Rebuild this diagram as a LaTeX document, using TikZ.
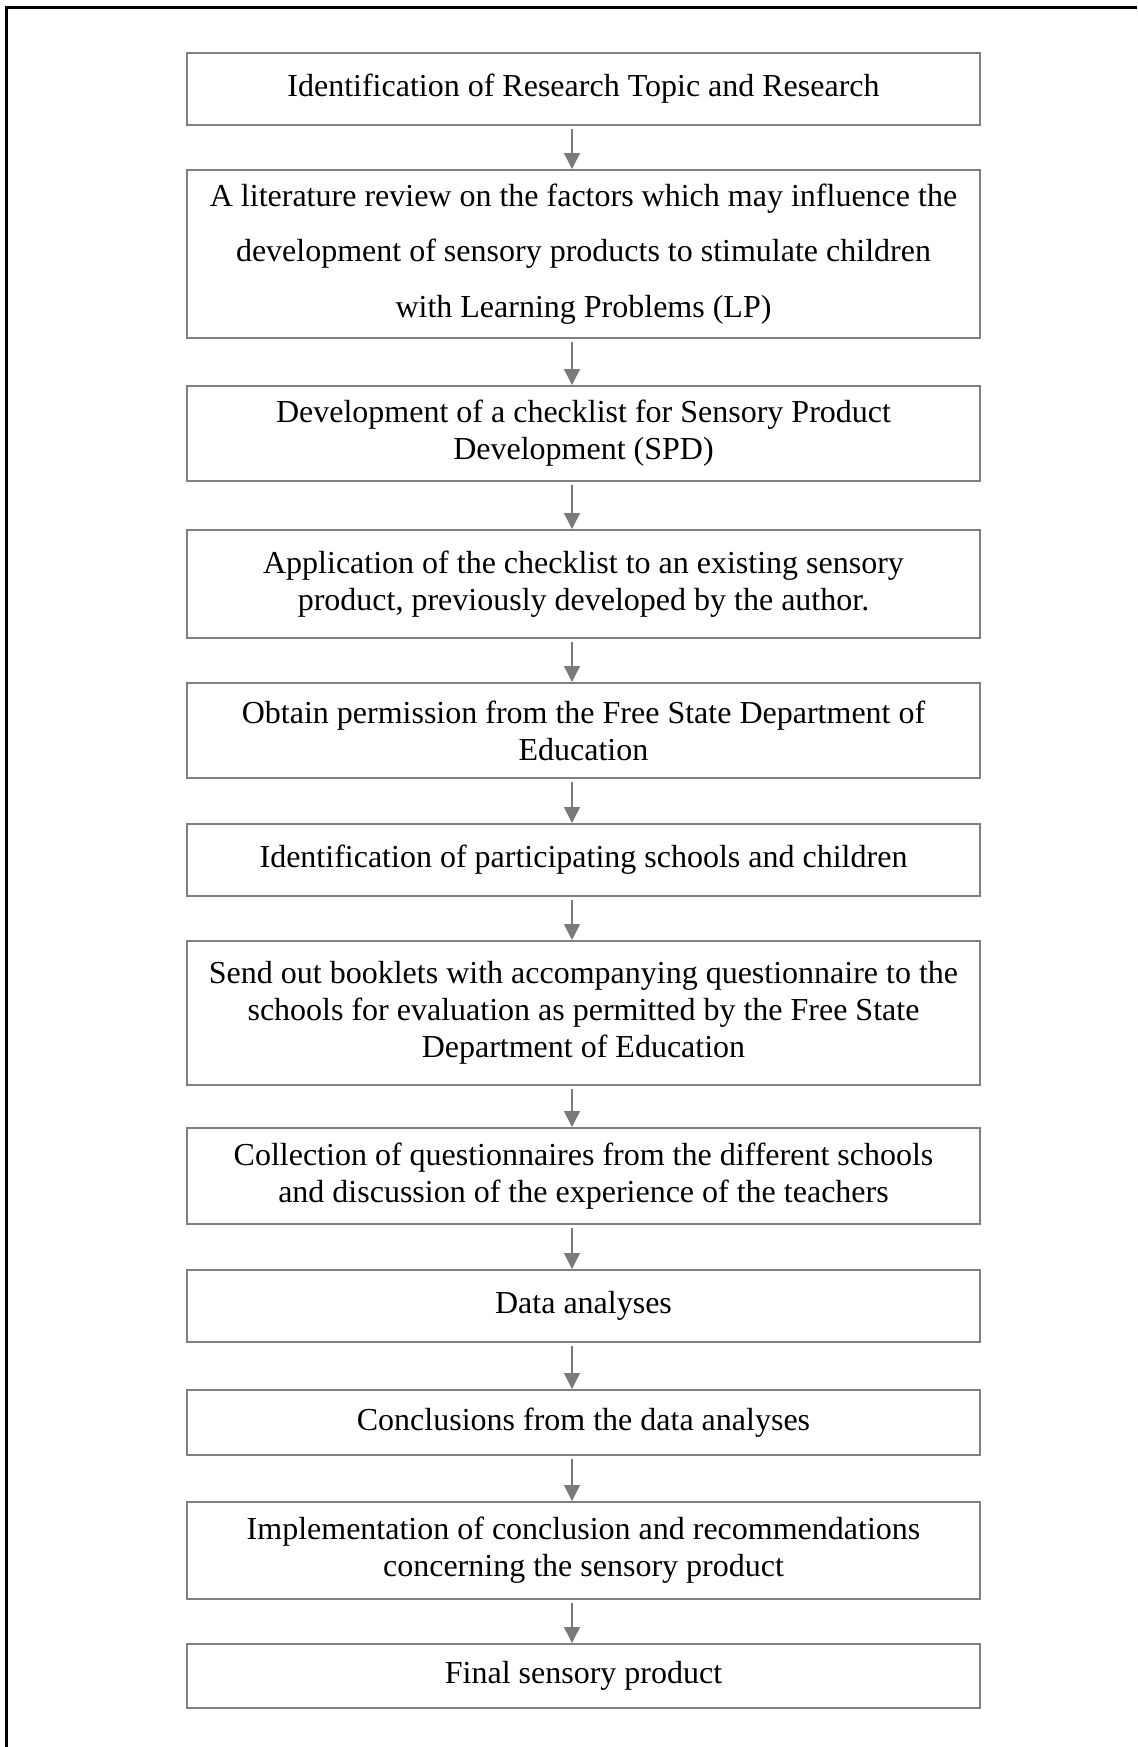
\documentclass[tikz,border=0pt]{standalone}
\usepackage{fontspec}
\setmainfont{Liberation Serif}
\usetikzlibrary{arrows.meta}
\definecolor{boxgray}{HTML}{808080}
\definecolor{arrgray}{HTML}{7A7A7A}
\tikzset{
  stepbox/.style={draw=boxgray, line width=1pt, minimum width=396.5pt, align=center,
                  font=\fontsize{16}{18.5}\selectfont, inner sep=0pt},
  widelead/.style={font=\fontsize{16}{27.9}\selectfont},
  arr/.style={-{Triangle[length=8pt, width=8pt]}, line width=0.75pt, draw=arrgray, fill=arrgray},
  frameline/.style={line width=1.5pt, draw=black},
}

\begin{document}
\begin{tikzpicture}[x=0.5pt, y=-0.5pt]
    \useasboundingbox (0,0) rectangle (1137,1747);
    % outer frame
    \draw[frameline] (6,1747) -- (6,7) -- (1137,7);
    % steps
    \node[stepbox, minimum height=36pt]   (topic) at (583.5, 89)    {Identification of Research Topic and Research};
    \node[stepbox, widelead, minimum height=84pt] (litrev) at (583.5, 254)
         {A literature review on the factors which may influence the\\development of sensory products to stimulate children\\with Learning Problems (LP)};
    \node[stepbox, minimum height=47.5pt] (check) at (583.5, 433.5) {Development of a checklist for Sensory Product\\Development (SPD)};
    \node[stepbox, minimum height=54pt]   (apply) at (583.5, 584)   {Application of the checklist to an existing sensory\\product, previously developed by the author.};
    \node[stepbox, minimum height=47.5pt] (perm)  at (583.5, 730.5) {Obtain permission from the Free State Department of\\Education};
    \node[stepbox, minimum height=36pt]   (ident) at (583.5, 860)   {Identification of participating schools and children};
    \node[stepbox, minimum height=72pt]   (send)  at (583.5, 1013)
         {Send out booklets with accompanying questionnaire to the\\schools for evaluation as permitted by the Free State\\Department of Education};
    \node[stepbox, minimum height=48pt]   (coll)  at (583.5, 1176)  {Collection of questionnaires from the different schools\\and discussion of the experience of the teachers};
    \node[stepbox, minimum height=36pt]   (data)  at (583.5, 1306)  {Data analyses};
    \node[stepbox, minimum height=32.5pt] (concl) at (583.5, 1422.5) {Conclusions from the data analyses};
    \node[stepbox, minimum height=48.5pt] (impl)  at (583.5, 1550.5) {Implementation of conclusion and recommendations\\concerning the sensory product};
    \node[stepbox, minimum height=32pt]   (final) at (583.5, 1676)  {Final sensory product};

    \draw[arr] ([xshift=-5.75pt, yshift=-1.5pt]topic.south) -- ([xshift=-5.75pt]litrev.north);
    \draw[arr] ([xshift=-5.75pt, yshift=-1.5pt]litrev.south) -- ([xshift=-5.75pt]check.north);
    \draw[arr] ([xshift=-5.75pt, yshift=-1.5pt]check.south) -- ([xshift=-5.75pt]apply.north);
    \draw[arr] ([xshift=-5.75pt, yshift=-1.5pt]apply.south) -- ([xshift=-5.75pt]perm.north);
    \draw[arr] ([xshift=-5.75pt, yshift=-1.5pt]perm.south) -- ([xshift=-5.75pt]ident.north);
    \draw[arr] ([xshift=-5.75pt, yshift=-1.5pt]ident.south) -- ([xshift=-5.75pt]send.north);
    \draw[arr] ([xshift=-5.75pt, yshift=-1.5pt]send.south) -- ([xshift=-5.75pt]coll.north);
    \draw[arr] ([xshift=-5.75pt, yshift=-1.5pt]coll.south) -- ([xshift=-5.75pt]data.north);
    \draw[arr] ([xshift=-5.75pt, yshift=-1.5pt]data.south) -- ([xshift=-5.75pt]concl.north);
    \draw[arr] ([xshift=-5.75pt, yshift=-1.5pt]concl.south) -- ([xshift=-5.75pt]impl.north);
    \draw[arr] ([xshift=-5.75pt, yshift=-1.5pt]impl.south) -- ([xshift=-5.75pt]final.north);
\end{tikzpicture}
\end{document}
